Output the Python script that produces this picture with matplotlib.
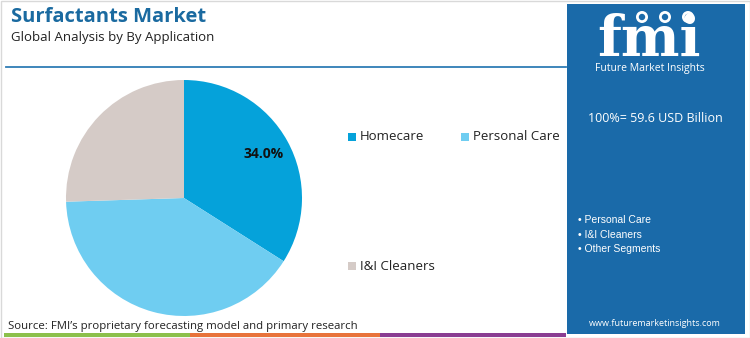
import matplotlib
matplotlib.use("Agg")
import matplotlib.pyplot as plt
from matplotlib.patches import Rectangle, Circle

# ---------------------------------------------------------------- data
categories = ["Homecare", "Personal Care", "I&I Cleaners"]
shares = [34.0, 40.5, 25.5]
colors = ["#05a2da", "#6fcdf1", "#d5cbc7"]
panel_items = ["Personal Care", "I&I Cleaners", "Other Segments"]
market_size = 59.6

title = "Surfactants Market"
subtitle = "Global Analysis by By Application"
source = "Source: FMI\u2019s proprietary forecasting model and primary research"

W, H = 750, 338
panel_blue = "#1a6aa9"
plt.rcParams["font.family"] = ["Open Sans", "DejaVu Sans"]

fig = plt.figure(figsize=(W / 100, H / 100), dpi=100)

# full-figure overlay in pixel units for the frame, rules and side panel
bg = fig.add_axes([0, 0, 1, 1])
bg.set_xlim(0, W)
bg.set_ylim(H, 0)
bg.axis("off")

bg.add_patch(Rectangle((0.5, 0.5), W - 1, H - 1, fill=False, ec="#d9d9d9", lw=1))
bg.plot([6, 566], [67, 67], color="#2f7db5", lw=1.3)

# coloured footer strip
for x0, x1, c in [(4, 190, "#8cc04b"), (190, 380, "#e8733b"), (380, 566, "#8a3d92")]:
    bg.add_patch(Rectangle((x0, 333), x1 - x0, 4, color=c, lw=0))

# right panel
bg.add_patch(Rectangle((567, 4), 178, 330, color=panel_blue, lw=0))

# fmi logo: striped letters with little icons above
bg.text(649, 56, "fmi", color="white", fontsize=40, fontweight="bold",
        family="DejaVu Serif", ha="center", va="baseline")
for y in range(24, 58, 4):
    bg.plot([592, 708], [y, y], color=panel_blue, lw=0.9)
for cx in (642, 665, 688):
    bg.add_patch(Circle((cx, 17), 6, color="white", lw=0))
    bg.add_patch(Circle((cx, 17), 3.2, color=panel_blue, lw=0))
bg.text(650, 69, "Future Market Insights", color="white", fontsize=7.5,
        ha="center", va="center")

bg.text(655, 119, f"100%= {market_size} USD Billion", color="white",
        fontsize=9, ha="center", va="center")
for i, item in enumerate(panel_items):
    bg.text(578, 220 + i * 14.5, "\u2022 " + item, color="white",
            fontsize=7.5, ha="left", va="center", family=["Liberation Sans", "DejaVu Sans"])
bg.text(655, 324, "www.futuremarketinsights.com", color="white",
        fontsize=6.5, ha="center", va="center")

# titles and source
bg.text(11, 17, title, color="#1a6aa0", fontsize=14.5, fontweight="bold",
        ha="left", va="center")
bg.text(11, 37, subtitle, color="#222222", fontsize=9.5, ha="left", va="center")
bg.text(8, 326, source, color="#222222", fontsize=8.2, ha="left", va="center")

# legend laid out as two rows
legend_pos = [(348, 137), (461, 137), (348, 266)]
for (lx, ly), name, c in zip(legend_pos, categories, colors):
    bg.add_patch(Rectangle((lx, ly - 4), 8, 8, color=c, lw=0))
    bg.text(lx + 12, ly, name, color="#222222", fontsize=9.5, ha="left", va="center")

# pie
cx, cy, r = 184, 198, 118
ax = fig.add_axes([(cx - r) / W, (H - cy - r) / H, 2 * r / W, 2 * r / H])
wedges, texts, autotexts = ax.pie(
    shares, colors=colors, startangle=90, counterclock=False,
    autopct="%.1f%%", pctdistance=0.77,
    wedgeprops=dict(linewidth=0),
    textprops=dict(fontsize=10, fontweight="bold", color="#111111"),
)
for t in autotexts[1:]:
    t.set_text("")
ax.set_xlim(-1, 1)
ax.set_ylim(-1, 1)
ax.set_aspect("equal")
ax.axis("off")

fig.savefig("out.png", dpi=100)
